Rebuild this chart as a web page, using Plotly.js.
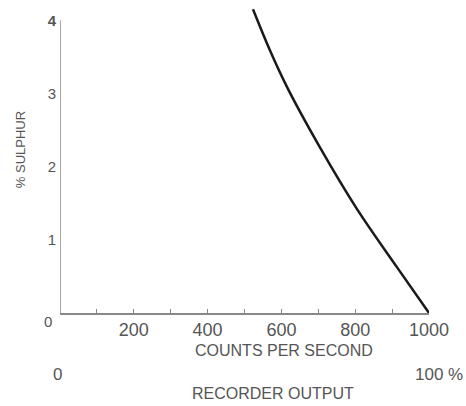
<!DOCTYPE html>
<html>
<head>
<meta charset="utf-8">
<script src="https://cdn.plot.ly/plotly-3.0.1.min.js"></script>
<style>html,body{margin:0;padding:0;background:#fff;}#chart{width:466px;height:406px;}</style>
</head>
<body>
<div id="chart"></div>
<script>
// Curve: counts per second vs % sulphur
var countsPerSecond = [523, 568, 615, 706, 805, 914, 1000];
var sulphurPct      = [4.15, 3.60, 3.09, 2.25, 1.42, 0.62, 0.0];

var xTickVals = [100, 200, 300, 400, 500, 600, 700, 800, 900, 1000];
var xTickText = ['', '200', '', '400', '', '600', '', '800', '', '1000'];
var yTickVals = [1, 2, 3, 4];
var yTickText = ['1', '2', '3', '<b>4</b>'];

var FONT = 'Liberation Sans, Arial, sans-serif';
var TXT = '#555555';
var AX = '#888888';

var trace = {
  x: countsPerSecond, y: sulphurPct, type: 'scatter', mode: 'lines',
  line: {color: '#1a1a1a', width: 2.5, shape: 'spline', smoothing: 1},
  hoverinfo: 'skip'
};

function note(text, x, y, size, extra) {
  var a = {text: text, xref: 'paper', yref: 'paper', x: x, y: y,
           xanchor: 'center', yanchor: 'middle', showarrow: false,
           font: {family: FONT, size: size, color: TXT}};
  for (var k in extra) a[k] = extra[k];
  return a;
}

var layout = {
  width: 466, height: 406,
  margin: {l: 60, r: 37, t: 2, b: 93},
  paper_bgcolor: '#fff', plot_bgcolor: '#fff',
  showlegend: false,
  font: {family: FONT, color: TXT},
  xaxis: {
    range: [0, 1000], showgrid: false, zeroline: false,
    showline: true, linecolor: AX, linewidth: 1.5,
    ticks: 'inside', ticklen: 4, tickwidth: 1, tickcolor: AX,
    tickmode: 'array', tickvals: xTickVals, ticktext: xTickText,
    tickfont: {family: FONT, size: 18, color: TXT}
  },
  yaxis: {
    range: [0, 4.25], showgrid: false, zeroline: false, showline: false,
    ticks: '', tickmode: 'array', tickvals: yTickVals, ticktext: yTickText,
    tickfont: {family: FONT, size: 15, color: TXT}, ticklabelstandoff: 3
  },
  shapes: [
    {type: 'line', xref: 'x', yref: 'y', x0: 0, x1: 0, y0: 0, y1: 4,
     line: {color: AX, width: 1.5}}
  ],
  annotations: [
    {text: '0', xref: 'x', yref: 'y', x: 0, y: 0, xshift: -12, yshift: -8,
     xanchor: 'center', yanchor: 'middle',
     showarrow: false, font: {family: FONT, size: 15, color: TXT}},
    note('% SULPHUR', -0.108, 0.524, 13, {textangle: -90}),
    note('COUNTS PER SECOND', 0.607, 0, 16, {yshift: -37}),
    note('0', -0.008, 0, 17, {yshift: -61}),
    note('100 %', 1.027, 0, 17, {yshift: -61}),
    note('RECORDER OUTPUT', 0.577, 0, 16, {yshift: -80})
  ]
};

Plotly.newPlot('chart', [trace], layout, {displayModeBar: false, staticPlot: true});
</script>
</body>
</html>
